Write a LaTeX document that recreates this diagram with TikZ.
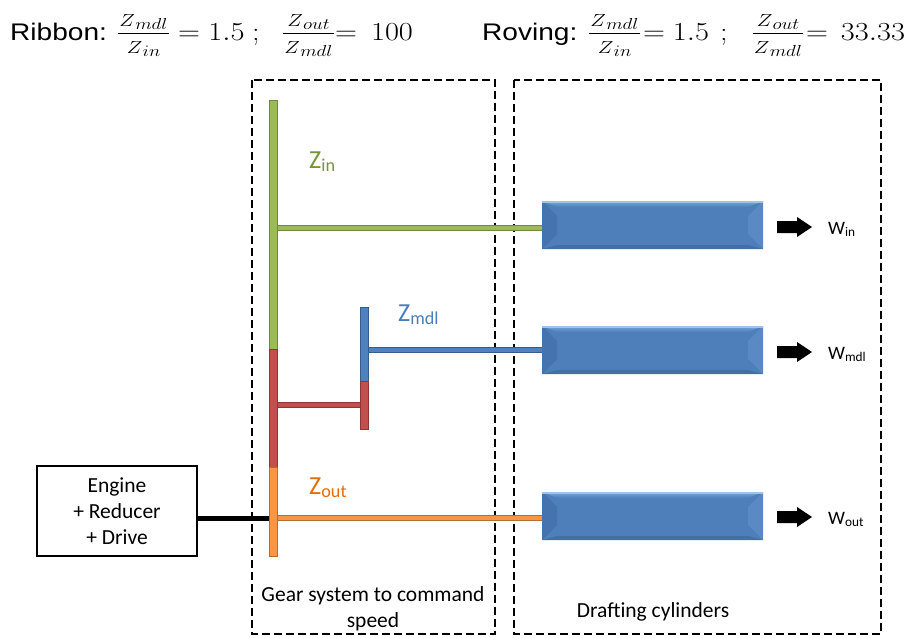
\RequirePackage{fix-cm}
\documentclass[tikz,border=0pt]{standalone}
\usepackage{fontspec}
\usepackage{graphicx}
\setmainfont{Carlito}
\newfontfamily\arialfont{Liberation Sans}
\usetikzlibrary{calc}
\definecolor{gfill}{HTML}{9BBB59}\definecolor{gdraw}{HTML}{71893F}
\definecolor{rfill}{HTML}{C0504D}\definecolor{rdraw}{HTML}{8C3836}
\definecolor{bfill}{HTML}{4F81BD}\definecolor{bdraw}{HTML}{385D8A}
\definecolor{ofill}{HTML}{F79646}\definecolor{odraw}{HTML}{B66D31}
\definecolor{ztxtg}{HTML}{77933C}\definecolor{ztxtb}{HTML}{4A7EBB}\definecolor{ztxto}{HTML}{E46C0A}
\definecolor{cylmain}{HTML}{4E7FBB}\definecolor{cyltop}{HTML}{78A6DE}
\definecolor{cylleft}{HTML}{4473AE}\definecolor{cylright}{HTML}{5A89C4}\definecolor{cylbot}{HTML}{456FA4}
\newcommand\blkarrow[1]{\fill[black] (777,#1-6) -- (797,#1-6) -- (797,#1-10) -- (812,#1) -- (797,#1+10) -- (797,#1+6) -- (777,#1+6) -- cycle;}
% title pieces
\newsavebox\zfnum \newsavebox\zfden \newlength\zfw
\newcommand\zpart[1]{{\fontsize{17.5}{19}\selectfont$Z$}\kern0.2pt\raisebox{-2.6pt}{\fontsize{16}{18}\selectfont$#1$}}
\newcommand\zfrac[2]{%
  \sbox\zfnum{\zpart{#1}}\sbox\zfden{\zpart{#2}}%
  \setlength\zfw{\wd\zfnum}\ifdim\wd\zfden>\zfw\setlength\zfw{\wd\zfden}\fi
  \addtolength\zfw{2pt}%
  \scalebox{1.2}[1]{\rlap{\raisebox{13.6pt}{\makebox[\zfw]{\usebox\zfnum}}}%
  \rlap{\raisebox{-13.6pt}{\makebox[\zfw]{\usebox\zfden}}}%
  \rule[6.05pt]{\zfw}{1.3pt}}}
\newcommand\tmath[1]{\scalebox{1.17}[1]{\fontsize{26}{28}\selectfont$#1$}}
\newcommand\tword[1]{\scalebox{1.17}[1]{\fontsize{24}{28}\selectfont\arialfont #1}}
\tikzset{
  dashbox/.style={draw=black, line width=1.6pt, dash pattern=on 8pt off 4pt},
  vbar/.style 2 args={fill=#1, draw=#2, line width=1pt},
  shaftline/.style 2 args={line width=6pt, draw=#2, postaction={draw=#1, line width=3.6pt}},
  cyl/.style={rectangle, minimum width=221pt, minimum height=48pt, inner sep=0pt, fill=cylmain,
    path picture={
      \coordinate (nw) at (path picture bounding box.north west);
      \coordinate (ne) at (path picture bounding box.north east);
      \coordinate (sw) at (path picture bounding box.south west);
      \coordinate (se) at (path picture bounding box.south east);
      \fill[top color=cyltop, bottom color=cylmain] (nw) -- (ne) -- ($(ne)+(-15,6)$) -- ($(nw)+(15,6)$) -- cycle;
      \fill[cylleft] (nw) -- ($(nw)+(15,15)$) -- ($(sw)+(15,-15)$) -- (sw) -- cycle;
      \fill[cylright] (ne) -- ($(ne)+(-15,15)$) -- ($(se)+(-15,-15)$) -- (se) -- cycle;
      \fill[cylbot] (sw) -- (se) -- ($(se)+(-15,-4)$) -- ($(sw)+(15,-4)$) -- cycle;
      \fill[cyltop!70!white] (nw) rectangle ($(ne)+(0,1.5)$);
    }},
  tpart/.style={anchor=base, inner sep=0pt},
  zlab/.style={anchor=base west, inner sep=0pt, font=\fontsize{26}{30}\selectfont},
  wlab/.style={anchor=base west, inner sep=0pt, font=\fontsize{19}{22}\selectfont},
  plain/.style={inner sep=0pt, font=\fontsize{21.5}{26}\selectfont, align=center}
}
\begin{document}
\begin{tikzpicture}[x=1pt,y=-1pt]
\useasboundingbox (0,0) rectangle (917,637);
% dashed boxes
\draw[dashbox] (252,80) rectangle (495,634);
\draw[dashbox] (514,80) rectangle (881,634);
% title: Ribbon
\node[tpart, anchor=base west] (rb) at (10,40) {\tword{Ribbon:}};
\node[tpart] (rbf1) at (143.5,40) {\zfrac{mdl}{in}};
\node[tpart] (rbe1) at (189,40) {\tmath{=}};
\node[tpart] (rbv1) at (226.5,40) {\tmath{1.5}};
\node[tpart] (rbs) at (256,40) {\tmath{;}};
\node[tpart] (rbf2) at (308.5,40) {\zfrac{out}{mdl}};
\node[tpart] (rbe2) at (346,40) {\tmath{=}};
\node[tpart] (rbv2) at (392,40) {\tmath{100}};
% title: Roving
\node[tpart, anchor=base west] (rv) at (482,40) {\tword{Roving:}};
\node[tpart] (rvf1) at (614.5,40) {\zfrac{mdl}{in}};
\node[tpart] (rve1) at (654,40) {\tmath{=}};
\node[tpart] (rvv1) at (691,40) {\tmath{1.5}};
\node[tpart] (rvs) at (724,40) {\tmath{;}};
\node[tpart] (rvf2) at (778,40) {\zfrac{out}{mdl}};
\node[tpart] (rve2) at (817,40) {\tmath{=}};
\node[tpart] (rvv2) at (873,40) {\tmath{33.33}};
% engine box
\node[draw=black, line width=1.3pt, minimum width=160pt, minimum height=90pt, inner sep=0pt,
      font=\fontsize{21.5}{26}\selectfont, align=center] (engine) at (117,511) {Engine\\+ Reducer\\+ Drive};
% cylinders
\node[cyl] (c1) at (652.5,225) {};
\node[cyl] (c2) at (652.5,350) {};
\node[cyl] (c3) at (652.5,516) {};
% gear contact coordinates
\coordinate (gin) at (273,228);
\coordinate (gmdl) at (364,350);
\coordinate (gred1) at (273,405);
\coordinate (gred2) at (364,405);
\coordinate (gout) at (273,518);
% black input shaft
\draw[line width=5pt, black] (gout -| engine.east) -- (gout);
% shafts
\draw[shaftline={gfill}{gdraw}] (gin) -- (gin -| c1.west);
\draw[shaftline={bfill}{bdraw}] (gmdl) -- (gmdl -| c2.west);
\draw[shaftline={rfill}{rdraw}] (gred1) -- (gred2);
\draw[shaftline={ofill}{odraw}] (gout) -- (gout -| c3.west);
% gear bars
\filldraw[vbar={gfill}{gdraw}] (269,100) rectangle (277,349);
\filldraw[vbar={rfill}{rdraw}] (269,349) rectangle (277,467);
\filldraw[vbar={ofill}{odraw}] (269,467) rectangle (277,556);
\filldraw[vbar={bfill}{bdraw}] (360,307) rectangle (368,381);
\filldraw[vbar={rfill}{rdraw}] (360,381) rectangle (368,429);
% Z labels
\node[zlab, text=ztxtg] (zin) at (309,168) {Z\textsubscript{in}};
\node[zlab, text=ztxtb] (zmdl) at (398,321) {Z\textsubscript{mdl}};
\node[zlab, text=ztxto] (zout) at (309,494) {Z\textsubscript{out}};
% output arrows
\blkarrow{227}
\blkarrow{352}
\blkarrow{517}
\node[wlab] (win) at (828,234) {W\textsubscript{in}};
\node[wlab] (wmdl) at (828,359) {W\textsubscript{mdl}};
\node[wlab] (wout) at (828,524) {W\textsubscript{out}};
% captions
\node[plain] (gear) at (373,609) {Gear system to command\\speed};
\node[plain] (draft) at (653,612) {Drafting cylinders};
\end{tikzpicture}
\end{document}
